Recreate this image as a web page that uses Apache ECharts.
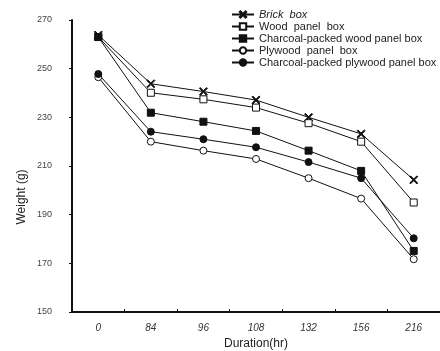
<!DOCTYPE html>
<html>
<head>
<meta charset="utf-8">
<script src="https://cdn.jsdelivr.net/npm/echarts@6/dist/echarts.min.js"></script>
<style>
html,body{margin:0;padding:0;background:#fff;}
#main{width:440px;height:351px;}
</style>
</head>
<body>
<div id="main"></div>
<script>
// durations (hr) shown as evenly spaced categories
var durations = ['0', '84', '96', '108', '132', '156', '216'];

var brickBox        = [263.8, 243.8, 240.6, 237.1, 230.0, 223.2, 204.3];
var woodPanel       = [263.0, 240.1, 237.4, 234.0, 227.6, 220.0, 195.0];
var charcoalWood    = [263.0, 231.9, 228.2, 224.4, 216.3, 208.0, 175.1];
var plywoodPanel    = [246.5, 220.0, 216.3, 212.9, 205.0, 196.6, 171.7];
var charcoalPlywood = [247.8, 224.1, 221.0, 217.7, 211.6, 205.0, 180.3];

var yTicks = [150, 170, 190, 210, 230, 250, 270];

var crossPath = 'path://M0,1L1,0L5,4L9,0L10,1L6,5L10,9L9,10L5,6L1,10L0,9L4,5Z';
var font = 'Liberation Sans, Arial, sans-serif';

function mkSeries(name, data, symbol, fill, size){
	return {
		name: name,
		type: 'line',
		data: data,
		symbol: symbol,
		symbolSize: size,
		lineStyle: {color: '#111', width: 1},
		itemStyle: {color: fill, borderColor: '#111', borderWidth: 1},
		emphasis: {disabled: true},
		animation: false
	};
}

var chart = echarts.init(document.getElementById('main'));
var option = {
	backgroundColor: '#fff',
	animation: false,
	grid: {left: 72, right: 0, top: 20, bottom: 39, containLabel: false, outerBoundsMode: 'none'},
	legend: {
		orient: 'vertical',
		left: 226,
		top: 4,
		itemGap: 1,
		itemWidth: 22,
		itemHeight: 8,
		textStyle: {
			fontFamily: font, fontSize: 11, color: '#222',
			rich: {i: {fontStyle: 'italic', fontFamily: font, fontSize: 11, color: '#222'}}
		},
		formatter: function(n){
			if (n === 'Brick  box') return '{i|' + n + '}';
			return n;
		},
		data: ['Brick  box', 'Wood  panel  box', 'Charcoal-packed wood panel box', 'Plywood  panel  box', 'Charcoal-packed plywood panel box']
	},
	xAxis: {
		type: 'category',
		data: durations,
		boundaryGap: true,
		name: 'Duration(hr)',
		nameLocation: 'middle',
		nameGap: 26,
		nameTextStyle: {fontFamily: font, fontSize: 12, color: '#222'},
		axisLine: {lineStyle: {color: '#111', width: 2}},
		axisTick: {show: true, inside: true, length: 3, lineStyle: {color: '#111'}},
		axisLabel: {fontFamily: font, fontSize: 10, fontStyle: 'italic', color: '#333', margin: 11},
		splitLine: {show: false}
	},
	yAxis: {
		type: 'value',
		min: 150,
		max: 270,
		interval: 20,
		axisLine: {show: true, lineStyle: {color: '#111', width: 2}},
		axisTick: {show: true, length: 3, lineStyle: {color: '#111'}},
		axisLabel: {fontFamily: font, fontSize: 9, color: '#444', margin: 20,
			formatter: function(v){ return yTicks.indexOf(v) >= 0 ? String(v) : ''; }},
		splitLine: {show: false}
	},
	graphic: [{
		type: 'text',
		x: 22,
		y: 197,
		rotation: Math.PI / 2,
		style: {text: 'Weight (g)', fontFamily: font, fontSize: 12, fill: '#222', align: 'center', verticalAlign: 'middle'}
	}],
	series: [
		mkSeries('Brick  box', brickBox, crossPath, '#111', 8),
		mkSeries('Wood  panel  box', woodPanel, 'rect', '#fff', 7),
		mkSeries('Charcoal-packed wood panel box', charcoalWood, 'rect', '#111', 7),
		mkSeries('Plywood  panel  box', plywoodPanel, 'circle', '#fff', 7),
		mkSeries('Charcoal-packed plywood panel box', charcoalPlywood, 'circle', '#111', 7)
	]
};
chart.setOption(option);
</script>
</body>
</html>
